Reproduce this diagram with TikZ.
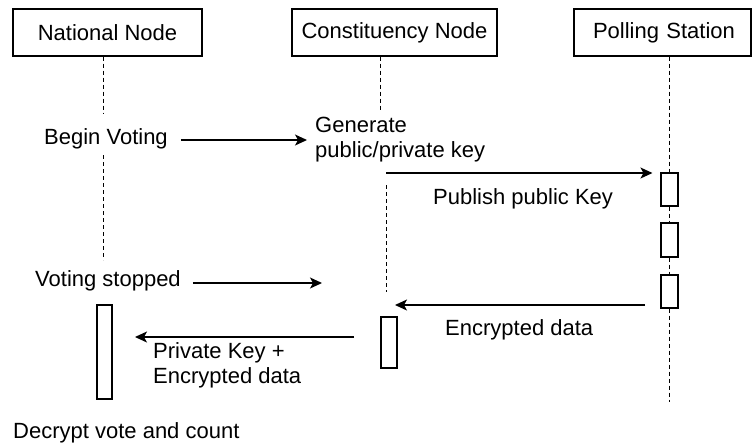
\documentclass[tikz,border=0pt]{standalone}
\usepackage{fontspec}
\setmainfont{Liberation Sans}
\usepackage{tikz}
\usetikzlibrary{arrows.meta, positioning}

\tikzset{
    actor/.style={rectangle, draw=black, line width=1.1pt, minimum height=47pt, inner sep=0pt},
    activation/.style={rectangle, draw=black, line width=1.1pt, minimum width=16pt, inner sep=0pt},
    msgtext/.style={inner sep=3pt, align=left},
    msg/.style={line width=1.3pt, -{Stealth[length=12pt, width=11pt, inset=3pt]}},
    lifeline/.style={line width=0.9pt, dash pattern=on 4pt off 3pt}
}

\begin{document}
\begin{tikzpicture}[x=1pt, y=-1pt, font=\fontsize{22}{25}\selectfont]
            \useasboundingbox (0, 0) rectangle (752, 445);

            % actors
            \node[actor, minimum width=189pt] (national) at (107.5, 32.5) {National Node};
            \node[actor, minimum width=205pt] (constituency) at (394.5, 32.5) {Constituency Node};
            \node[actor, minimum width=177pt, text width=177pt, align=center] (polling) at (662.5, 32.5) {\hspace*{3pt}Polling Station};

            % activations
            \node[activation, minimum height=94pt, minimum width=15pt] (natact) at (104.5, 352) {};
            \node[activation, minimum height=51pt] (conact) at (389, 342.5) {};
            \node[activation, minimum height=33pt, minimum width=17pt] (poll1) at (669.5, 189.5) {};
            \node[activation, minimum height=34pt, minimum width=17pt] (poll2) at (669.5, 240) {};
            \node[activation, minimum height=33pt, minimum width=17pt] (poll3) at (669.5, 291.5) {};

            % texts
            \node[msgtext, anchor=base west] (begin) at (41, 144) {Begin Voting};
            \node[msgtext, anchor=base west] (generate) at (312, 157) {Generate\\public/private key};
            \node[msgtext, anchor=base west] (publish) at (430, 204) {Publish public Key};
            \node[msgtext, anchor=base west] (stopped) at (32, 286) {Voting stopped};
            \node[msgtext, anchor=base west] (encdata) at (442, 335) {Encrypted data};
            \node[msgtext, anchor=base west] (privkey) at (150, 383) {Private Key +\\Encrypted data};
            \node[msgtext, anchor=base west] (decrypt) at (10, 438) {Decrypt vote and count};

            % free ends
            \coordinate (conup) at (380, 112);
            \coordinate (cl1) at (386, 185);
            \coordinate (cl2) at (386, 292);
            \coordinate (pubstart) at (386, 173);
            \coordinate (stopend) at (322, 283);
            \coordinate (encstart) at (645, 305);
            \coordinate (encend) at (395, 305);
            \coordinate (privstart) at (354, 337);
            \coordinate (privend) at (135, 337);
            \coordinate (pollend) at (669.5, 402);

            % lifelines
            \draw[lifeline] (103, 0 |- national.south) -- (103, 113);
            \draw[lifeline] (103, 155) -- (103, 260);
            \draw[lifeline] (conup |- constituency.south) -- (conup);
            \draw[lifeline] (cl1) -- (cl2);
            \draw[lifeline] (poll1.north |- polling.south) -- (poll1.north);
            \draw[lifeline] (poll1.south) -- (poll2.north);
            \draw[lifeline] (poll2.south) -- (poll3.north);
            \draw[lifeline] (poll3.south) -- (pollend);

            % messages
            \draw[msg, shorten <=10pt, shorten >=5pt] (begin.east |- 0, 140) -- (generate.west |- 0, 140);
            \draw[msg, shorten >=8pt] (pubstart) -- (pubstart -| poll1.west);
            \draw[msg, shorten <=9pt] (stopped.east |- stopend) -- (stopend);
            \draw[msg] (encstart) -- (encend);
            \draw[msg] (privstart) -- (privend);
        \end{tikzpicture}
\end{document}
